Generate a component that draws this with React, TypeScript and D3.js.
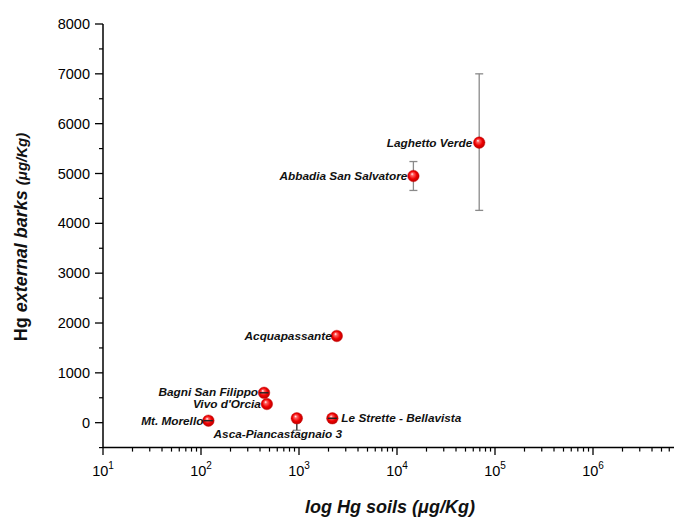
import React from "react";
import * as d3 from "d3";

const sites = [
  "Laghetto Verde",
  "Abbadia San Salvatore",
  "Acquapassante",
  "Bagni San Filippo",
  "Vivo d'Orcia",
  "Mt. Morello",
  "Asca-Piancastagnaio 3",
  "Le Strette - Bellavista",
];
const hgSoils = [69000, 14700, 2430, 440, 470, 119, 950, 2190];
const hgBarks = [5620, 4950, 1740, 600, 375, 40, 88, 88];
const errHigh = [1380, 290, 0, 10, 0, 10, 10, 10];
const errLow = [1360, 290, 0, 10, 0, 10, 240, 10];

const yMajorTicks = [0, 1000, 2000, 3000, 4000, 5000, 6000, 7000, 8000];
const xDecades = [1, 2, 3, 4, 5, 6];

// label layout (not data)
const labelLayout: { anchor: "start" | "end" | "middle"; dx: number; dy: number }[] = [
  { anchor: "end", dx: -7, dy: 4.5 },
  { anchor: "end", dx: -6, dy: 4.5 },
  { anchor: "end", dx: -5, dy: 4.5 },
  { anchor: "end", dx: -6, dy: 3 },
  { anchor: "end", dx: -6, dy: 4.5 },
  { anchor: "end", dx: -5, dy: 4.3 },
  { anchor: "middle", dx: -19, dy: 20 },
  { anchor: "start", dx: 9, dy: 4 },
];

const W = 674;
const H = 518;
const x0 = 103;
const decade = 98;

export default function App() {
  const x = d3.scaleLog().domain([10, 1e7]).range([x0, x0 + decade * 6]);
  const y = d3.scaleLinear().domain([-500, 8000]).range([447.6, 24]);

  const xMinor: number[] = [];
  for (let e = 1; e <= 6; e++) {
    for (let m = 2; m <= 9; m++) xMinor.push(m * Math.pow(10, e));
  }
  const yMinor = d3.range(-500, 8000, 1000);

  const axisY = y(-500);
  const r = 5.8;
  const font = "'Liberation Sans', Arial, sans-serif";

  return (
    <svg
      width={W}
      height={H}
      style={{ position: "absolute", left: 0, top: 0, background: "#fff" }}
      fontFamily={font}
    >
      <defs>
        <radialGradient id="ball" cx="50%" cy="50%" r="55%" fx="38%" fy="32%">
          <stop offset="0%" stopColor="#ffffff" />
          <stop offset="22%" stopColor="#ff6060" />
          <stop offset="60%" stopColor="#ee0000" />
          <stop offset="100%" stopColor="#b00000" />
        </radialGradient>
      </defs>

      {/* axes lines */}
      <line x1={x0} x2={x0} y1={y(8000)} y2={axisY} stroke="#000" strokeWidth={1.5} />
      <line x1={x0} x2={W + 20} y1={axisY} y2={axisY} stroke="#000" strokeWidth={1.5} />

      {/* y ticks */}
      {yMajorTicks.map((t) => (
        <g key={"ym" + t}>
          <line x1={x0 - 8} x2={x0} y1={y(t)} y2={y(t)} stroke="#000" strokeWidth={1.3} />
          <text x={90} y={y(t) + 5} textAnchor="end" fontSize={14.5} fill="#000">
            {t}
          </text>
        </g>
      ))}
      {yMinor.map((t) => (
        <line key={"yn" + t} x1={x0 - 4} x2={x0} y1={y(t)} y2={y(t)} stroke="#000" strokeWidth={1.2} />
      ))}

      {/* x ticks */}
      {xDecades.map((e) => {
        const v = Math.pow(10, e);
        return (
          <g key={"xm" + e}>
            <line x1={x(v)} x2={x(v)} y1={axisY} y2={axisY + 7.5} stroke="#000" strokeWidth={1.3} />
            <text x={x(v)} y={476} textAnchor="middle" fontSize={14.5} fill="#000">
              <tspan>10</tspan>
              <tspan dy={-7} fontSize={10}>
                {e}
              </tspan>
            </text>
          </g>
        );
      })}
      {xMinor.map((v, i) => (
        <line key={"xn" + i} x1={x(v)} x2={x(v)} y1={axisY} y2={axisY + 4} stroke="#000" strokeWidth={1.2} />
      ))}

      {/* error bars */}
      {sites.map((s, i) => {
        const cx = x(hgSoils[i]);
        const yt = y(hgBarks[i] + errHigh[i]);
        const yb = y(hgBarks[i] - errLow[i]);
        if (errHigh[i] === 0 && errLow[i] === 0) return null;
        const big = yb - yt > 2 * r;
        return (
          <g key={"eb" + i} stroke={big ? "#8a8a8a" : "#222"} strokeWidth={1.3}>
            <line x1={cx} x2={cx} y1={yt} y2={yb} />
            {errHigh[i] > 0 && big && <line x1={cx - 4} x2={cx + 4} y1={yt} y2={yt} />}
            {errLow[i] > 0 && big && <line x1={cx - 4} x2={cx + 4} y1={yb} y2={yb} />}
          </g>
        );
      })}

      {/* markers */}
      {sites.map((s, i) => (
        <circle key={"pt" + i} cx={x(hgSoils[i])} cy={y(hgBarks[i])} r={r} fill="url(#ball)" stroke="#d00000" strokeWidth={0.4} />
      ))}
      {/* small error caps drawn over the markers */}
      {sites.map((s, i) => {
        const cx = x(hgSoils[i]);
        const cy = y(hgBarks[i]);
        const yt = y(hgBarks[i] + errHigh[i]);
        const yb = y(hgBarks[i] - errLow[i]);
        if (errHigh[i] === 0 && errLow[i] === 0) return null;
        if (yb - yt > 2 * r) return null;
        return (
          <line key={"cap" + i} x1={cx - 4.5} x2={cx + 4.5} y1={cy} y2={cy} stroke="#222" strokeWidth={1.4} />
        );
      })}
      {/* lower stub for asymmetric small error */}
      {sites.map((s, i) => {
        const cx = x(hgSoils[i]);
        const cy = y(hgBarks[i]);
        const yb = y(hgBarks[i] - errLow[i]);
        if (yb - cy <= r + 1) return null;
        if (errHigh[i] >= errLow[i]) return null;
        return <line key={"stub" + i} x1={cx} x2={cx} y1={cy + r} y2={yb} stroke="#222" strokeWidth={1} />;
      })}

      {/* labels */}
      {sites.map((s, i) => (
        <text
          key={"lb" + i}
          x={x(hgSoils[i]) + labelLayout[i].dx}
          y={y(hgBarks[i]) + labelLayout[i].dy}
          textAnchor={labelLayout[i].anchor}
          fontSize={11.8}
          fontWeight="bold"
          fontStyle="italic"
          fill="#111"
        >
          {s}
        </text>
      ))}

      {/* axis titles */}
      <text x={390} y={513} textAnchor="middle" fontSize={18} fontWeight="bold" fontStyle="italic" fill="#111">
        log Hg soils (μg/Kg)
      </text>
      <text
        transform={`translate(27, 237) rotate(-90)`}
        textAnchor="middle"
        fontSize={18}
        fontWeight="bold"
        fill="#111"
      >
        <tspan>Hg </tspan>
        <tspan fontStyle="italic">external barks </tspan>
        <tspan fontStyle="italic" fontSize={15}>
          (μg/Kg)
        </tspan>
      </text>
    </svg>
  );
}
